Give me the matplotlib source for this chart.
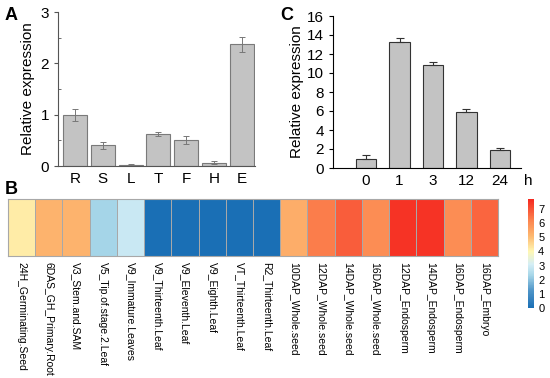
import numpy as np
import matplotlib
matplotlib.use('Agg')
import matplotlib.pyplot as plt
from matplotlib.colors import LinearSegmentedColormap, Normalize
from matplotlib.ticker import MultipleLocator

plt.rcParams['font.family'] = ['Liberation Sans', 'DejaVu Sans']

# panel A
tissues = ['R', 'S', 'L', 'T', 'F', 'H', 'E']
tissue_expr = [1.0, 0.40, 0.02, 0.63, 0.50, 0.06, 2.37]
tissue_err = [0.12, 0.07, 0.02, 0.04, 0.08, 0.03, 0.14]

# panel C
hours = ['0', '1', '3', '12', '24']
hour_expr = [1.0, 13.3, 10.8, 5.85, 1.85]
hour_err = [0.35, 0.4, 0.35, 0.35, 0.3]

# panel B
samples = ['24H_Germinating.Seed', '6DAS_GH_Primary.Root', 'V3_Stem.and.SAM',
           'V5_Tip.of.stage.2.Leaf', 'V9_Immature.Leaves', 'V9_Thirteenth.Leaf',
           'V9_Eleventh.Leaf', 'V9_Eighth.Leaf', 'VT_Thirteenth.Leaf',
           'R2_Thirteenth.Leaf', '10DAP_Whole.seed', '12DAP_Whole.seed',
           '14DAP_Whole.seed', '16DAP_Whole.seed', '12DAP_Endosperm',
           '14DAP_Endosperm', '16DAP_Endosperm', '16DAP_Embryo']
sample_expr = [4.2, 5.2, 5.2, 2.3, 2.9, 0, 0, 0, 0, 0,
               5.3, 6.3, 6.8, 6.0, 7.5, 7.5, 6.0, 6.7]

W, H = 550, 378
fig = plt.figure(figsize=(5.5, 3.78), dpi=100)


def box(l, t, r, b):
    return [l / W, (H - b) / H, (r - l) / W, (b - t) / H]


bar_col = '#c3c3c3'
edge_col = '#7a7a7a'

# A
axA = fig.add_axes(box(58, 12, 255, 166))
x = np.arange(len(tissues))
axA.bar(x, tissue_expr, width=0.86, color=bar_col, edgecolor=edge_col, linewidth=0.8)
axA.errorbar(x, tissue_expr, yerr=tissue_err, fmt='none', ecolor='#777777',
             elinewidth=0.7, capsize=2, capthick=0.7)
axA.set_xlim(-0.61, 6.47)
axA.set_ylim(0, 3)
axA.set_xticks(x)
axA.set_xticklabels(tissues, fontsize=11)
axA.tick_params(axis='x', length=0, pad=4)
axA.set_yticks([0, 1, 2, 3])
axA.yaxis.set_minor_locator(MultipleLocator(0.5))
axA.tick_params(axis='y', which='major', labelsize=11, length=3, color='#555555')
axA.tick_params(axis='y', which='minor', length=2, direction='in', color='#555555')
axA.set_ylabel('Relative expression', fontsize=11, labelpad=4)
for s in ['top', 'right']:
    axA.spines[s].set_visible(False)
for s in ['left', 'bottom']:
    axA.spines[s].set_color('#555555')

# C
axC = fig.add_axes(box(333, 16, 521, 168))
x = np.arange(len(hours))
axC.bar(x, hour_expr, width=0.62, color=bar_col, edgecolor='#333333', linewidth=0.8)
axC.errorbar(x, hour_expr, yerr=[np.zeros(len(hour_err)), hour_err], fmt='none',
             ecolor='#333333', elinewidth=0.8, capsize=3, capthick=0.8)
axC.set_xlim(-0.99, 4.63)
axC.set_ylim(0, 16)
axC.set_xticks(x)
axC.set_xticklabels(hours, fontsize=11)
axC.tick_params(axis='x', length=0, pad=4)
axC.set_yticks(np.arange(0, 17, 2))
axC.tick_params(axis='y', labelsize=11, length=3)
axC.set_ylabel('Relative expression', fontsize=11, labelpad=2)
axC.text(4.85, -0.04, 'h', transform=axC.get_xaxis_transform(), fontsize=11,
         ha='center', va='top')
for s in ['top', 'right']:
    axC.spines[s].set_visible(False)

# B heatmap
cmap = LinearSegmentedColormap.from_list('hm', [
    (0.0, '#1a6fb5'), (0.16, '#4f95c8'), (0.30, '#a6d6e8'), (0.40, '#d4eef6'),
    (0.52, '#fff7b3'), (0.66, '#fdb870'), (0.80, '#fc8650'), (1.0, '#f5281f')])
norm = Normalize(0, 7.7)
axB = fig.add_axes(box(8, 199, 498, 256))
axB.pcolormesh(np.array([sample_expr]), cmap=cmap, norm=norm,
               edgecolors='#a8a8a8', linewidth=0.6)
axB.set_xlim(0, len(samples))
axB.set_ylim(0, 1)
axB.set_yticks([])
axB.set_xticks(np.arange(len(samples)) + 0.5)
axB.set_xticklabels(samples, rotation=270, fontsize=7.5, va='top', ha='center')
axB.tick_params(axis='x', length=0, pad=4)
for s in axB.spines.values():
    s.set_color('#a8a8a8')
    s.set_linewidth(0.8)

cax = fig.add_axes(box(528, 199, 534, 308))
cb = fig.colorbar(plt.cm.ScalarMappable(norm=norm, cmap=cmap), cax=cax)
cb.outline.set_visible(False)
cb.set_ticks(range(8))
cax.tick_params(labelsize=8, length=0, pad=3)

fig.text(5 / W, (H - 16) / H, 'A', fontsize=13, fontweight='bold', va='center')
fig.text(280 / W, (H - 16) / H, 'C', fontsize=13, fontweight='bold', va='center')
fig.text(5 / W, (H - 190) / H, 'B', fontsize=13, fontweight='bold', va='center')

fig.savefig('out.png', dpi=100)
